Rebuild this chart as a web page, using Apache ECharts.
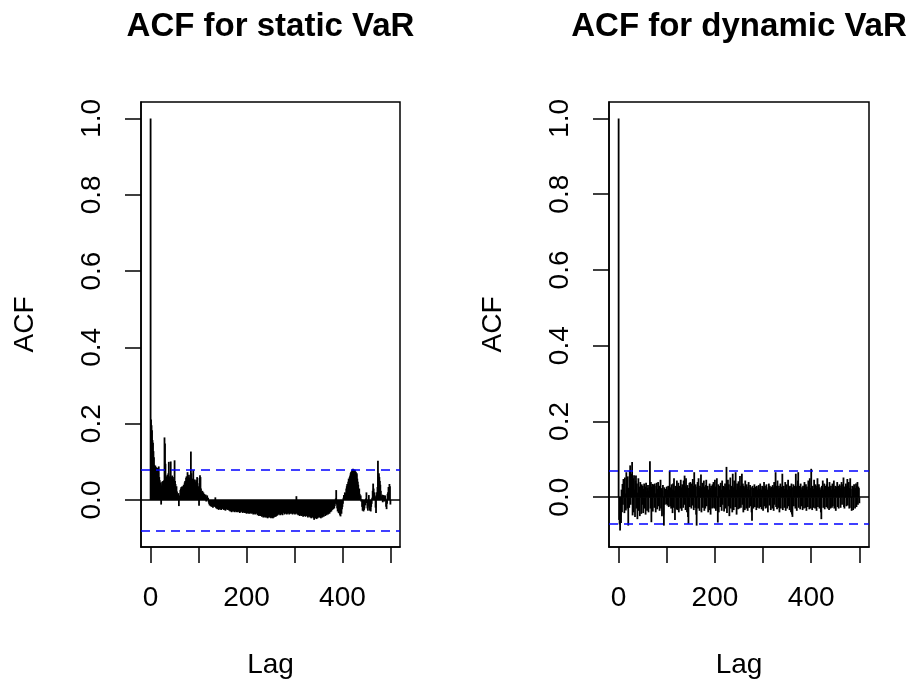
<!DOCTYPE html>
<html>
<head>
<meta charset="utf-8">
<script src="https://cdn.jsdelivr.net/npm/echarts@6/dist/echarts.min.js"></script>
<style>
html,body{margin:0;padding:0;background:#fff;}
#chart{width:917px;height:688px;}
</style>
</head>
<body>
<div id="chart"></div>
<script>
// ---- data ----
const titles = ["ACF for static VaR", "ACF for dynamic VaR"];
const xTickValues = [0, 100, 200, 300, 400, 500];
const xLabelValues = [0, 200, 400];
const yTickValues = [0, 0.2, 0.4, 0.6, 0.8, 1.0];
const ciStatic = 0.08;
const ciDynamic = 0.075;

const acfStatic = [1.000,
0.211,0.196,0.183,0.157,0.150,0.128,0.112,0.092,0.085,0.090,
0.078,0.086,0.066,0.058,0.084,0.072,0.088,0.060,0.052,0.046,
0.044,-0.012,0.038,0.048,0.042,0.050,0.046,0.052,0.164,0.148,
0.095,0.058,0.062,0.048,0.066,0.056,0.070,0.100,0.058,0.062,
0.054,0.101,0.060,0.052,0.064,0.048,0.056,0.044,0.060,0.104,
0.050,0.042,0.030,0.036,0.022,0.014,0.010,0.018,-0.016,0.008,
0.012,0.026,0.030,0.034,0.028,0.036,0.032,0.030,0.040,0.034,
0.046,0.050,0.042,0.058,0.062,0.054,0.073,0.060,0.052,0.066,
0.048,0.058,0.062,0.127,0.070,0.052,0.046,0.056,0.078,0.050,
0.044,0.054,0.040,0.048,0.052,0.046,0.060,0.044,0.036,0.030,
-0.015,0.058,0.065,0.060,0.030,0.020,0.018,0.024,0.014,0.020,
0.012,0.016,0.006,0.010,0.014,-0.004,0.008,0.012,0.004,0.006,
-0.006,-0.010,-0.014,-0.008,-0.016,-0.012,-0.018,-0.010,-0.014,-0.020,
-0.016,-0.012,-0.018,-0.014,0.007,-0.020,-0.022,-0.018,-0.024,-0.020,
-0.022,-0.026,-0.020,-0.024,-0.022,-0.018,-0.026,-0.024,-0.020,-0.022,
-0.024,-0.020,-0.026,-0.022,-0.024,-0.028,-0.022,-0.024,-0.020,-0.026,
-0.024,-0.022,-0.026,-0.028,-0.012,-0.030,-0.026,-0.028,-0.032,-0.026,
-0.030,-0.028,-0.024,-0.030,-0.032,-0.028,-0.030,-0.026,-0.032,-0.030,
-0.028,-0.032,-0.030,-0.026,-0.030,-0.034,-0.028,-0.032,-0.030,-0.028,
-0.030,-0.034,-0.030,-0.032,-0.028,-0.034,-0.032,-0.030,-0.034,-0.036,
-0.032,-0.034,-0.030,-0.036,-0.034,-0.032,-0.036,-0.034,-0.030,-0.034,
-0.036,-0.032,-0.034,-0.038,-0.034,-0.036,-0.032,-0.038,-0.036,-0.034,
-0.018,-0.036,-0.040,-0.036,-0.038,-0.042,-0.038,-0.040,-0.036,-0.042,
-0.040,-0.044,-0.040,-0.042,-0.046,-0.042,-0.044,-0.040,-0.046,-0.044,
-0.042,-0.046,-0.044,-0.048,-0.042,-0.046,-0.044,-0.040,-0.046,-0.044,
-0.048,-0.044,-0.046,-0.042,-0.048,-0.044,-0.046,-0.042,-0.044,-0.040,
-0.044,-0.038,-0.042,-0.036,-0.040,-0.034,-0.038,-0.032,-0.036,-0.040,
-0.034,-0.038,-0.032,-0.036,-0.040,-0.034,-0.016,-0.032,-0.038,-0.034,
-0.036,-0.030,-0.034,-0.038,-0.032,-0.036,-0.030,-0.034,-0.038,-0.032,
-0.036,-0.014,-0.030,-0.036,-0.032,-0.038,-0.034,-0.030,-0.036,-0.034,
-0.038,-0.032,-0.036,0.010,-0.034,-0.038,-0.036,-0.040,-0.034,-0.038,
-0.042,-0.036,-0.040,-0.038,-0.042,-0.036,-0.040,-0.044,-0.038,-0.018,
-0.042,-0.038,-0.044,-0.040,-0.036,-0.042,-0.040,-0.046,-0.038,-0.042,
-0.044,-0.040,-0.046,-0.020,-0.048,-0.044,-0.040,-0.046,-0.042,-0.048,
-0.052,-0.044,-0.048,-0.042,-0.046,-0.050,-0.044,-0.048,-0.042,-0.046,
-0.044,-0.040,-0.046,-0.042,-0.048,-0.044,-0.040,-0.046,-0.042,-0.038,
-0.044,-0.018,-0.036,-0.042,-0.038,-0.034,-0.040,-0.036,-0.032,-0.038,
-0.034,-0.030,-0.036,-0.028,-0.032,-0.012,-0.030,-0.022,-0.026,-0.020,
-0.024,-0.018,-0.022,-0.016,-0.010,0.004,0.026,-0.012,-0.022,-0.030,
-0.026,-0.034,-0.028,-0.036,-0.040,-0.043,-0.030,-0.036,-0.024,-0.018,
-0.010,0.006,0.013,0.008,0.020,0.012,0.018,0.030,0.036,0.042,
0.040,0.048,0.056,0.050,0.060,0.064,0.070,0.074,0.068,0.078,
0.080,0.082,0.081,0.078,0.076,0.079,0.072,0.074,0.066,0.070,
0.056,0.048,0.040,0.026,0.030,0.016,0.008,0.012,-0.004,0.002,
-0.018,-0.028,-0.024,-0.030,-0.026,-0.022,-0.010,-0.014,0.004,0.020,
-0.008,-0.022,-0.028,-0.016,0.013,-0.020,-0.028,-0.024,-0.030,-0.018,
-0.010,0.006,0.024,0.043,0.030,0.012,0.020,0.010,-0.020,-0.034,
0.013,0.020,0.034,0.103,0.064,0.070,0.060,0.050,0.040,0.024,
0.010,0.006,0.014,-0.006,0.008,0.013,-0.004,0.010,0.012,0.004,
-0.018,-0.024,-0.010,0.016,0.020,0.034,0.012,0.042,0.036,-0.012];

const acfDynamic = [1.000,
-0.060,-0.072,-0.088,-0.050,-0.068,0.020,-0.040,0.035,-0.020,0.048,
0.030,-0.042,0.052,0.010,-0.035,0.066,0.040,-0.030,0.055,-0.075,
0.025,-0.028,0.070,0.084,-0.020,0.062,0.030,0.093,-0.048,0.050,
-0.040,0.058,0.020,-0.052,0.044,0.057,-0.030,0.036,-0.058,0.012,
0.050,-0.036,0.028,-0.050,0.040,0.026,-0.044,0.034,-0.020,0.030,
-0.042,0.022,0.036,-0.030,0.028,-0.046,0.038,0.015,-0.036,0.024,
0.032,-0.040,0.018,0.026,0.095,-0.030,0.040,-0.066,0.028,0.035,
-0.038,0.020,0.034,-0.028,0.036,0.010,-0.040,0.030,0.038,-0.032,
0.022,0.040,-0.024,0.030,-0.036,0.028,0.046,-0.030,0.024,-0.050,
0.018,0.032,-0.046,-0.075,0.026,-0.020,0.022,0.016,-0.018,0.028,
-0.022,0.020,0.030,-0.026,0.018,0.070,-0.024,0.026,-0.030,0.034,
0.020,-0.042,0.036,-0.028,0.050,0.018,-0.060,0.030,0.024,-0.032,
0.044,-0.034,0.028,0.038,-0.040,0.020,0.030,-0.030,0.046,0.026,
-0.036,0.034,0.022,-0.028,0.044,-0.020,0.057,0.030,-0.034,0.050,
0.026,-0.040,0.032,-0.052,-0.070,0.024,0.038,-0.026,0.040,0.028,
-0.030,0.036,-0.022,0.048,0.030,-0.034,0.066,0.020,-0.028,0.034,
-0.046,-0.075,0.028,0.040,-0.030,0.050,0.024,-0.036,0.030,0.022,
0.060,-0.040,0.026,0.038,-0.028,0.020,0.044,-0.036,0.028,-0.030,
0.032,0.046,-0.024,0.022,0.030,-0.040,0.020,-0.034,0.036,0.024,
-0.046,0.030,0.018,-0.030,0.034,-0.028,0.040,0.022,-0.030,0.046,
0.028,-0.036,0.024,0.050,-0.030,-0.067,0.034,-0.040,0.026,0.030,
-0.026,0.038,0.020,-0.036,0.044,-0.020,0.030,0.024,-0.038,0.028,
0.036,-0.030,0.026,0.080,-0.042,0.030,0.046,-0.024,0.034,-0.050,
0.020,0.052,-0.030,0.030,0.024,-0.040,0.062,0.026,-0.034,0.044,
0.030,-0.026,0.066,0.020,-0.046,0.036,0.028,-0.032,0.042,0.024,
-0.030,0.056,0.030,-0.028,0.024,0.062,-0.020,0.036,-0.040,0.030,
0.026,-0.034,0.044,0.020,-0.030,0.034,0.022,-0.036,0.028,0.040,
-0.028,0.020,0.032,-0.024,0.026,-0.040,-0.062,0.030,0.022,-0.030,
0.024,0.034,-0.026,0.018,0.028,-0.034,0.030,0.020,-0.028,0.026,
0.032,-0.030,0.022,0.036,-0.026,0.020,-0.032,0.030,0.024,-0.036,
0.028,0.040,-0.024,0.030,-0.030,0.022,0.034,-0.028,0.020,-0.040,
0.026,0.036,-0.022,0.030,0.024,-0.034,0.028,0.020,-0.030,0.032,
0.026,-0.036,0.040,-0.020,0.034,0.066,-0.026,0.030,-0.032,0.044,
0.022,-0.028,0.030,-0.040,0.024,0.036,-0.030,0.028,0.020,0.062,
-0.034,0.026,0.030,-0.028,0.022,0.040,-0.036,0.024,0.034,-0.030,
0.020,0.046,-0.024,0.028,-0.034,0.030,0.022,-0.040,0.036,-0.046,
-0.052,0.026,0.034,-0.024,0.030,0.020,-0.030,0.062,0.028,-0.036,
0.030,0.044,0.066,-0.028,0.024,0.030,-0.032,0.036,0.020,-0.024,
0.026,-0.034,0.030,0.022,-0.030,0.040,0.024,-0.028,0.034,-0.036,
0.028,0.020,-0.026,0.044,0.030,-0.032,0.050,0.024,-0.030,0.075,
0.026,-0.034,0.030,0.022,-0.028,0.046,0.020,-0.030,0.034,0.024,
-0.036,0.030,0.050,-0.026,0.022,0.034,-0.030,0.026,0.020,-0.040,
-0.058,0.030,0.024,0.044,-0.028,0.020,0.036,-0.032,0.026,0.030,
-0.026,0.034,0.050,-0.030,0.022,0.028,-0.034,0.040,0.024,-0.030,
0.030,0.020,-0.028,0.036,-0.024,0.026,0.044,-0.030,0.022,0.030,
-0.036,0.028,0.024,0.040,-0.026,0.030,-0.030,0.020,0.034,0.024,
-0.028,0.030,0.040,-0.020,0.026,0.034,0.052,-0.026,-0.030,0.028,
0.020,0.036,-0.024,0.030,0.048,-0.022,0.026,0.040,-0.030,0.024,
0.050,0.030,-0.028,-0.036,0.022,0.030,-0.034,0.026,0.034,0.020,
-0.030,0.024,0.036,-0.026,0.030,0.040,-0.020,0.028,0.024,-0.016];

// ---- chart ----
const FONT = "'Liberation Sans', Arial, Helvetica, sans-serif";
const chart = echarts.init(document.getElementById('chart'), null, {renderer: 'canvas'});

const panels = [
  {acf: acfStatic, ci: ciStatic, left: 141, width: 259, yMin: -0.1232, yMax: 1.0432},
  {acf: acfDynamic, ci: ciDynamic, left: 609, width: 260, yMin: -0.1315, yMax: 1.0435}
];

function renderSpike(params, api) {
  const lag = api.value(0), v = api.value(1);
  const p0 = api.coord([lag, 0]);
  const p1 = api.coord([lag, v]);
  return {
    type: 'line',
    shape: {x1: p0[0], y1: p0[1], x2: p1[0], y2: p1[1]},
    style: {stroke: '#000', lineWidth: 1.8}
  };
}

const option = {
  backgroundColor: '#fff',
  animation: false,
  title: panels.map((p, i) => ({
    text: titles[i],
    left: p.left + p.width / 2,
    top: 10,
    textAlign: 'center',
    padding: 0,
    textStyle: {fontFamily: FONT, fontSize: 33, fontWeight: 'bold', color: '#000'}
  })),
  grid: panels.map(p => ({
    left: p.left, top: 102, width: p.width, height: 445,
    show: true, borderColor: '#000', borderWidth: 1.5, backgroundColor: 'transparent',
    containLabel: false, outerBoundsMode: 'none'
  })),
  xAxis: panels.map((p, i) => ({
    type: 'value', gridIndex: i, min: -20, max: 520, position: 'bottom',
    name: 'Lag', nameLocation: 'middle', nameGap: 104, nameMoveOverlap: false,
    nameTextStyle: {fontFamily: FONT, fontSize: 28, color: '#000'},
    axisLine: {show: true, onZero: false, lineStyle: {color: '#000', width: 1.5}},
    axisTick: {show: true, inside: false, length: 16, customValues: xTickValues,
      lineStyle: {color: '#000', width: 1.5}},
    axisLabel: {show: true, customValues: xLabelValues, margin: 37,
      fontFamily: FONT, fontSize: 28, color: '#000', hideOverlap: false},
    splitLine: {show: false}
  })),
  yAxis: panels.map((p, i) => ({
    type: 'value', gridIndex: i, min: p.yMin, max: p.yMax, position: 'left',
    name: 'ACF', nameLocation: 'middle', nameGap: 102, nameRotate: 90, nameMoveOverlap: false,
    nameTextStyle: {fontFamily: FONT, fontSize: 28, color: '#000'},
    axisLine: {show: true, onZero: false, lineStyle: {color: '#000', width: 1.5}},
    axisTick: {show: true, inside: false, length: 16, customValues: yTickValues,
      lineStyle: {color: '#000', width: 1.5}},
    axisLabel: {show: true, customValues: yTickValues, rotate: 90, margin: 35,
      formatter: v => Number(v).toFixed(1),
      fontFamily: FONT, fontSize: 28, color: '#000', hideOverlap: false},
    splitLine: {show: false}
  })),
  series: panels.map((p, i) => ({
    type: 'custom',
    xAxisIndex: i, yAxisIndex: i,
    renderItem: renderSpike,
    encode: {x: 0, y: 1},
    clip: true,
    data: p.acf.map((v, lag) => [lag, v]),
    markLine: {
      silent: true, symbol: ['none', 'none'], label: {show: false},
      animation: false,
      data: [
        {yAxis: 0, lineStyle: {color: '#000', width: 1.5, type: 'solid'}},
        {yAxis: p.ci, lineStyle: {color: '#0000FF', width: 1.5, type: [9, 6]}},
        {yAxis: -p.ci, lineStyle: {color: '#0000FF', width: 1.5, type: [9, 6]}}
      ]
    }
  }))
};
chart.setOption(option);
</script>
</body>
</html>
